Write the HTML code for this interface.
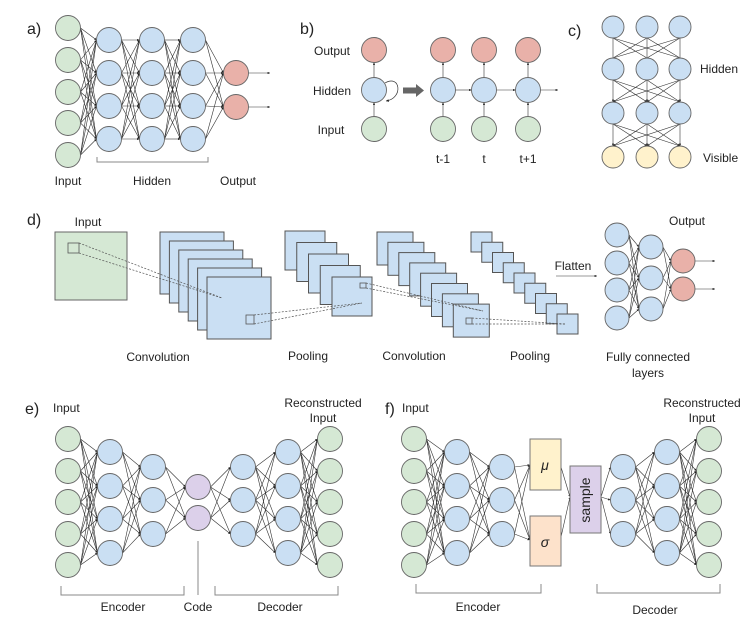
<!DOCTYPE html>
<html><head><meta charset="utf-8"><style>
html,body{margin:0;padding:0;background:#fff;width:754px;height:622px;overflow:hidden}
svg{display:block}
text{font-family:"Liberation Sans",Arial,sans-serif;fill:#222}
</style></head><body>
<svg id="s" width="754" height="622" viewBox="0 0 754 622" xmlns="http://www.w3.org/2000/svg">
<defs>
<marker id="ah" viewBox="0 0 6 6" refX="6" refY="3" markerWidth="4" markerHeight="4" orient="auto"><path d="M0,0L6,3L0,6z" fill="#222"/></marker>
</defs>
<g id="lines"></g>
<g id="shapes"></g>
<g font-size="12">
<text x="27" y="34" font-size="16">a)</text>
<text x="68" y="185" text-anchor="middle">Input</text>
<text x="152" y="185" text-anchor="middle">Hidden</text>
<text x="238" y="185" text-anchor="middle">Output</text>
<text x="300" y="34" font-size="16">b)</text>
<text x="332" y="55" text-anchor="middle">Output</text>
<text x="332" y="95" text-anchor="middle">Hidden</text>
<text x="331" y="134" text-anchor="middle">Input</text>
<text x="443" y="163" text-anchor="middle">t-1</text>
<text x="484" y="163" text-anchor="middle">t</text>
<text x="528" y="163" text-anchor="middle">t+1</text>
<text x="568" y="36" font-size="16">c)</text>
<text x="700" y="73">Hidden</text>
<text x="703" y="162">Visible</text>
<text x="27" y="225" font-size="16">d)</text>
<text x="88" y="226" text-anchor="middle">Input</text>
<text x="573" y="270" text-anchor="middle">Flatten</text>
<text x="687" y="225" text-anchor="middle">Output</text>
<text x="158" y="361" text-anchor="middle">Convolution</text>
<text x="308" y="360" text-anchor="middle">Pooling</text>
<text x="414" y="360" text-anchor="middle">Convolution</text>
<text x="530" y="360" text-anchor="middle">Pooling</text>
<text x="648" y="361" text-anchor="middle">Fully connected</text>
<text x="648" y="377" text-anchor="middle">layers</text>
<text x="25" y="414" font-size="16">e)</text>
<text x="53" y="412">Input</text>
<text x="323" y="407" text-anchor="middle">Reconstructed</text>
<text x="323" y="422" text-anchor="middle">Input</text>
<text x="123" y="611" text-anchor="middle">Encoder</text>
<text x="198" y="611" text-anchor="middle">Code</text>
<text x="280" y="611" text-anchor="middle">Decoder</text>
<text x="385" y="414" font-size="16">f)</text>
<text x="402" y="412">Input</text>
<text x="702" y="407" text-anchor="middle">Reconstructed</text>
<text x="702" y="422" text-anchor="middle">Input</text>
<text x="478" y="611" text-anchor="middle">Encoder</text>
<text x="655" y="614" text-anchor="middle">Decoder</text>
<text x="545" y="470" text-anchor="middle" font-style="italic" font-size="14">μ</text>
<text x="545" y="547" text-anchor="middle" font-style="italic" font-size="14">σ</text>
<text x="590" y="500" text-anchor="middle" font-size="14" transform="rotate(-90 590 500)">sample</text>
</g>
</svg>
<script>
var NS="http://www.w3.org/2000/svg";
var L=document.getElementById('lines'),S=document.getElementById('shapes');
function el(p,tag,a){var e=document.createElementNS(NS,tag);for(var k in a)e.setAttribute(k,a[k]);p.appendChild(e);return e;}
var C={g:'#d5e8d4',b:'#cadff3',r:'#e9b1a9',y:'#fff2cc',p:'#dcd0ea',o:'#fde2cb'};
function circ(x,y,r,c){el(S,'circle',{cx:x,cy:y,r:r,fill:C[c],stroke:'#666','stroke-width':0.9});}
function line(x1,y1,x2,y2,arrow,w,col,dash){var a={x1:x1,y1:y1,x2:x2,y2:y2,stroke:col||'#333','stroke-width':w||0.6};if(arrow)a['marker-end']='url(#ah)';if(dash)a['stroke-dasharray']=dash;el(L,'line',a);}
// network: layers = [{x, ys, c}], r
function net(layers,r,vert){
 for(var i=0;i<layers.length;i++){var A=layers[i];A.ys.forEach(function(y){circ(A.x,y,r,A.c);});}
 for(var i=0;i<layers.length-1;i++){var A=layers[i],B=layers[i+1];
  A.ys.forEach(function(ya){B.ys.forEach(function(yb){
   if(vert){line(ya,A.x+r,yb,B.x-r,true);}else line(A.x+r,ya,B.x-r,yb,true);});});}
}
// a)
net([{x:68,ys:[28,60,92,123,155],c:'g'},{x:109,ys:[40,73,106,139],c:'b'},{x:152,ys:[40,73,106,139],c:'b'},{x:193,ys:[40,73,106,139],c:'b'},{x:236,ys:[73,107],c:'r'}],12.5);
line(248.5,73,270,73,true);line(248.5,107,270,107,true);
el(L,'path',{d:'M97,157V162H208V157',fill:'none',stroke:'#888','stroke-width':1});
// b)
function rnn(x,loop){circ(x,50,12.5,'r');circ(x,90,12.5,'b');circ(x,129,12.5,'g');line(x,116.5,x,102.5,true);line(x,77.5,x,62.5,true);}
rnn(374);
el(L,'path',{d:'M385,83C400,74 404,98 386,101',fill:'none',stroke:'#333','stroke-width':0.7,'marker-end':'url(#ah)'});
el(S,'path',{d:'M403,87.5H416V84L424,90.5L416,97V93.5H403z',fill:'#666'});
[443,484,528].forEach(function(x){rnn(x);});
line(455.5,90,471.5,90,true);line(496.5,90,515.5,90,true);line(540.5,90,558,90,true);
// c)
(function(){var xs=[613,647,680],ys=[27,69,113,157],r=11;
 for(var i=0;i<3;i++){xs.forEach(function(xa){xs.forEach(function(xb){line(xa,ys[i]+r,xb,ys[i+1]-r,i>0);});});}
 ys.forEach(function(y,j){xs.forEach(function(x){circ(x,y,r,j==3?'y':'b');});});})();
// d)
function stack(n,x0,y0,w,h,dx,dy){for(var i=0;i<n;i++)el(S,'rect',{x:x0+i*dx,y:y0+i*dy,width:w,height:h,fill:C.b,stroke:'#555','stroke-width':1});}
el(S,'rect',{x:55,y:232,width:72,height:68,fill:C.g,stroke:'#666','stroke-width':1});
stack(6,160,232,64,62,9.4,9);
stack(5,285,231,40,39,11.75,11.5);
stack(8,377,232,36,33,10.9,10.3);
stack(9,471,232,21,20,10.75,10.25);
var D=document.createElementNS(NS,'g');document.getElementById('s').appendChild(D);
function dl(x1,y1,x2,y2){el(D,'line',{x1:x1,y1:y1,x2:x2,y2:y2,stroke:'#555','stroke-width':0.7,'stroke-dasharray':'2,1.5'});}
function sq(x,y,w,h,f){el(D,'rect',{x:x,y:y,width:w,height:h,fill:f,stroke:'#555','stroke-width':0.8});}
sq(68,243,11,10,C.g);dl(79,243,222,298);dl(79,253,222,298);
sq(246,315,8,9,C.b);dl(254,315,362,303);dl(254,324,362,303);
sq(360,283,6,5,C.b);dl(366,283,483,311);dl(366,288,483,311);
sq(466,318,6,6,C.b);dl(472,318,565,324);dl(472,324,565,324);
line(556,276,597,276,true);
net([{x:617,ys:[235,263,290,318],c:'b'},{x:651,ys:[247,278,309],c:'b'},{x:683,ys:[261,289],c:'r'}],12);
line(695,261,715,261,true);line(695,289,715,289,true);
// e)
var Y5=[439,471,502,534,565],Y4=[452,486,519,553],Y3=[467,500,534];
net([{x:68,ys:Y5,c:'g'},{x:110,ys:Y4,c:'b'},{x:153,ys:Y3,c:'b'},{x:198,ys:[487,518],c:'p'},{x:243,ys:Y3,c:'b'},{x:288,ys:Y4,c:'b'},{x:330,ys:Y5,c:'g'}],12.5);
el(L,'path',{d:'M61,586V595H184V586M215,586V595H338V586M198,541V595',fill:'none',stroke:'#888','stroke-width':1});
// f)
net([{x:414,ys:Y5,c:'g'},{x:457,ys:Y4,c:'b'},{x:502,ys:Y3,c:'b'}],12.5);
net([{x:623,ys:Y3,c:'b'},{x:667,ys:Y4,c:'b'},{x:709,ys:Y5,c:'g'}],12.5);
Y3.forEach(function(y){line(514.5,y,530,465,true);line(514.5,y,530,540,true);line(601,497,610.5,y,true);});
line(561,467,570,497,true);line(561,537,570,497,true);
el(S,'rect',{x:530,y:439,width:31,height:51,fill:C.y,stroke:'#777','stroke-width':1});
el(S,'rect',{x:530,y:516,width:31,height:50,fill:C.o,stroke:'#777','stroke-width':1});
el(S,'rect',{x:570,y:466,width:31,height:67,fill:C.p,stroke:'#777','stroke-width':1});
el(L,'path',{d:'M416,584V593H541V584M597,584V593H720V584',fill:'none',stroke:'#888','stroke-width':1});
</script>
</body></html>
